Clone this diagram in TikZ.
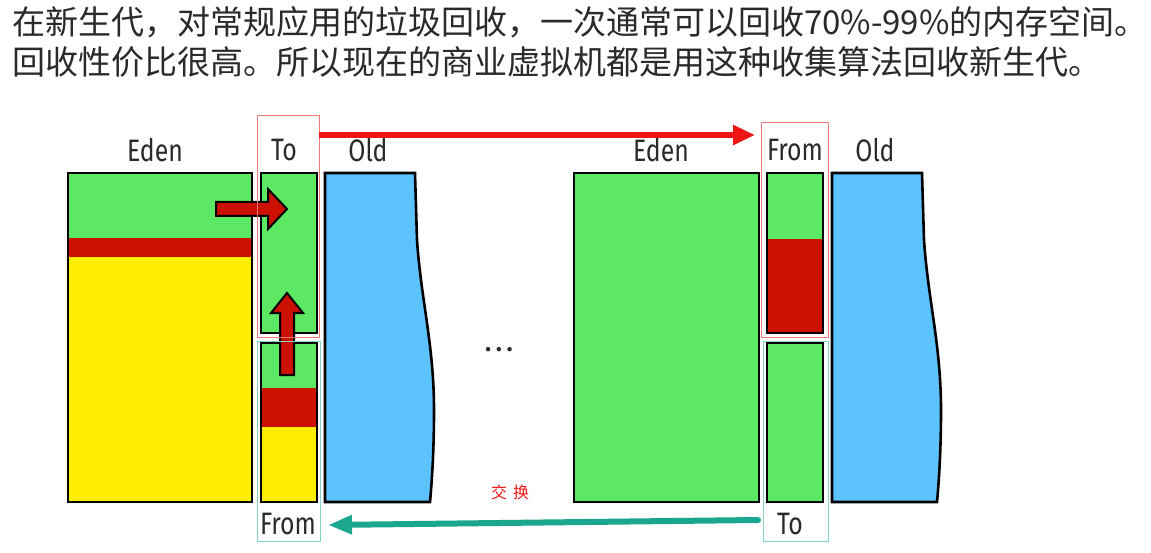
\documentclass[tikz,border=0pt]{standalone}
\usepackage{fontspec}
\setmainfont{Fira Sans}
\newfontfamily\cjk{Noto Sans CJK SC}
\newfontfamily\labfont[FakeStretch=0.8]{Fira Sans}
\usetikzlibrary{arrows.meta}
\definecolor{memgreen}{HTML}{5CE862}
\definecolor{memred}{HTML}{CC1100}
\definecolor{memyellow}{HTML}{FFEE00}
\definecolor{memblue}{HTML}{5CC3FF}
\definecolor{arrred}{HTML}{EE1515}
\definecolor{arrteal}{HTML}{1BA68E}
\definecolor{outred}{HTML}{F07878}
\definecolor{outteal}{HTML}{85D3C8}
\definecolor{txt}{HTML}{2A2A2A}
\begin{document}
\begin{tikzpicture}[x=1pt,y=-1pt,
  membox/.style={draw=black,line width=2.6pt,rectangle,inner sep=0pt,outer sep=0pt,anchor=north west},
  outbox/.style={rectangle,inner sep=0pt,outer sep=0pt,anchor=north west,line width=1pt},
  lbl/.style={font=\labfont\fontsize{31}{31}\selectfont,text=txt,inner sep=0pt},
  cjktext/.style={font=\cjk\fontsize{33}{40}\selectfont,text=txt,inner sep=0pt,anchor=west},
  blockarrow/.style={fill=memred,draw=black,line width=2pt,line join=miter}
]
\useasboundingbox (0,0) rectangle (1151,553);
\fill[white] (0,0) rectangle (1151,553);

% heading text
\node[cjktext] (t1) at (12,22) {在新生代，对常规应用的垃圾回收，一次通常可以回收70\%-99\%的内存空间。};
\node[cjktext] (t2) at (12,62) {回收性价比很高。所以现在的商业虚拟机都是用这种收集算法回收新生代。};

% ---------- left state ----------
\fill[memgreen] (68,173) rectangle (252,238);
\fill[memred] (68,238) rectangle (252,257);
\fill[memyellow] (68,257) rectangle (252,502);
\node[membox,minimum width=184pt,minimum height=329pt] (edenL) at (68,173) {};

\node[membox,fill=memgreen,minimum width=56pt,minimum height=160pt] (toL) at (261,173) {};

\fill[memgreen] (261,343) rectangle (317,388);
\fill[memred] (261,388) rectangle (317,427);
\fill[memyellow] (261,427) rectangle (317,502);
\node[membox,minimum width=56pt,minimum height=159pt] (fromL) at (261,343) {};

\draw[fill=memblue,line width=2.6pt,line join=miter] (325,173) -- (415,173) -- (417,240)
  .. controls (421,300) and (434,345) .. (434,410)
  .. controls (434,450) and (432,480) .. (430,502) -- (325,502) -- cycle;

% block arrows (left)
\draw[blockarrow] (216,202) -- (268,202) -- (268,189) -- (287,209) -- (268,229) -- (268,216) -- (216,216) -- cycle;
\draw[blockarrow] (280,375) -- (280,313) -- (271,313) -- (287,293) -- (303,313) -- (294,313) -- (294,375) -- cycle;

% ---------- right state ----------
\node[membox,fill=memgreen,minimum width=185pt,minimum height=329pt] (edenR) at (574,173) {};

\fill[memgreen] (767,173) rectangle (823,239);
\fill[memred] (767,239) rectangle (823,333);
\node[membox,minimum width=56pt,minimum height=160pt] (fromR) at (767,173) {};

\node[membox,fill=memgreen,minimum width=56pt,minimum height=159pt] (toR) at (767,343) {};

\draw[fill=memblue,line width=2.6pt,line join=miter] (832,173) -- (922,173) -- (924,240)
  .. controls (928,300) and (941,345) .. (941,410)
  .. controls (941,450) and (939,480) .. (937,502) -- (832,502) -- cycle;

% outline boxes
\node[outbox,draw=outred,minimum width=62pt,minimum height=221pt] (toLout) at (257,116) {};
\node[outbox,draw=outred,minimum width=67pt,minimum height=214pt] (fromRout) at (761,123) {};
\node[outbox,draw=outteal,minimum width=63pt,minimum height=200pt] (fromLout) at (257,341) {};
\node[outbox,draw=outteal,minimum width=65pt,minimum height=200pt] (toRout) at (763,341) {};

% labels
\node[lbl] (lEdenL) at (155,150) {Eden};
\node[lbl] (lToL) at (284,150) {To};
\node[lbl] (lOldL) at (368,150) {Old};
\node[lbl] (lEdenR) at (661,150) {Eden};
\node[lbl] (lFromR) at (795,150) {From};
\node[lbl] (lOldR) at (875,150) {Old};
\node[lbl] (lFromL) at (288,524) {From};
\node[lbl] (lToR) at (790,524) {To};

\node[inner sep=0pt,text=txt] (dots) at (499,350) {\fontsize{32}{32}\selectfont .\hspace{3pt}.\hspace{3pt}.};
\node[inner sep=0pt,text=arrred,font=\cjk\fontsize{16}{16}\selectfont] (swap) at (510,492) {交\hspace{6pt}换};

% connectors
\draw[arrred,line width=6pt,-{Triangle[length=22pt,width=19pt]}]
  ([yshift=-19pt]toLout.north east) -- ([xshift=-6pt,yshift=-12pt]fromRout.north west);
\draw[arrteal,line width=6pt,line cap=round,-{Triangle[length=24pt,width=18pt]}]
  ([xshift=-5pt,yshift=21pt]toRout.south west) -- ([xshift=8pt,yshift=16pt]fromLout.south east);
\end{tikzpicture}
\end{document}
